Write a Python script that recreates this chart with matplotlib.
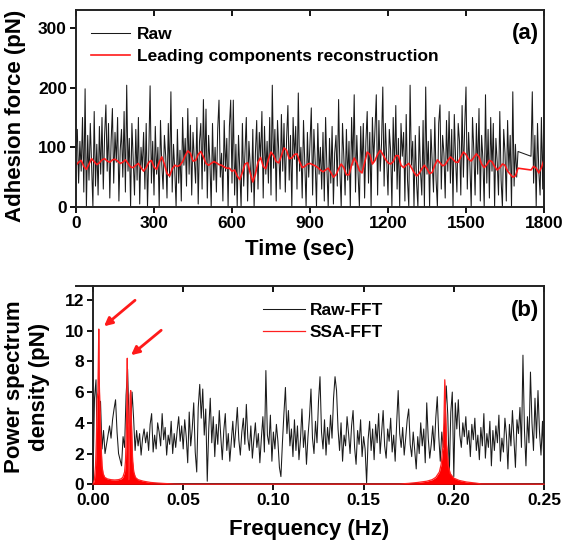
import numpy as np
import matplotlib
matplotlib.use("Agg")
import matplotlib.pyplot as plt
from matplotlib.lines import Line2D

plt.rcParams['font.family'] = ['Liberation Sans', 'DejaVu Sans']
plt.rcParams['font.weight'] = 'bold'

# ---------------- Panel (a) data ----------------
raw_dt = 5  # s between raw samples
raw_part1 = [  # t = 0 .. 1700 s
    95, 130, 40, 110, 60, 150, 25, 198, 0, 120, 45, 140, 70, 0, 160, 35, 105, 20, 135, 55,
    150, 30, 120, 171, 60, 140, 15, 110, 165, 40, 125, 75, 150, 10, 95, 130, 50, 160, 25, 204,
    60, 115, 0, 140, 80, 20, 130, 45, 150, 5, 100, 65, 125, 30, 140, 0, 90, 203, 40, 110,
    20, 135, 55, 100, 0, 145, 70, 30, 120, 85, 15, 140, 50, 193, 25, 105, 60, 0, 130, 40,
    95, 10, 150, 70, 115, 35, 165, 55, 137, 20, 125, 80, 40, 150, 5, 110, 140, 30, 180, 60,
    164, 15, 120, 75, 0, 140, 45, 100, 25, 130, 179, 50, 90, 10, 145, 60, 115, 0, 135, 179,
    40, 179, 20, 105, 0, 120, 60, 0, 140, 35, 95, 150, 10, 110, 70, 25, 130, 0, 90, 145,
    30, 125, 80, 160, 15, 135, 55, 110, 40, 150, 20, 204, 65, 130, 10, 145, 90, 30, 155, 60,
    140, 25, 115, 170, 45, 120, 0, 150, 80, 135, 30, 191, 60, 100, 15, 145, 70, 0, 125, 50,
    110, 166, 20, 130, 75, 0, 140, 55, 100, 30, 125, 10, 150, 65, 0, 115, 40, 135, 5, 90,
    120, 35, 180, 60, 0, 140, 85, 20, 130, 45, 110, 0, 150, 70, 188, 25, 120, 55, 0, 135,
    60, 140, 15, 110, 160, 40, 125, 0, 150, 75, 130, 188, 20, 145, 60, 105, 201, 35, 140, 80,
    20, 130, 95, 0, 150, 60, 170, 30, 115, 0, 140, 85, 125, 10, 155, 45, 0, 204, 70, 110,
    0, 120, 40, 0, 135, 60, 20, 145, 0, 201, 55, 110, 0, 130, 75, 25, 150, 45, 0, 140,
    171, 30, 120, 90, 15, 145, 60, 160, 40, 130, 0, 155, 80, 25, 140, 110, 20, 170, 50, 135,
    201, 30, 125, 70, 0, 150, 95, 20, 140, 55, 165, 10, 120, 80, 0, 188, 40, 130, 15, 150,
    60, 140, 0, 115, 75, 20, 160, 45, 0, 130, 90, 10, 145, 60, 120, 0, 193, 35, 105, 50,
    93,
]
raw_part2_start = 1750
raw_part2 = [85, 193, 40, 120, 0, 140, 60, 20, 150, 30, 179]  # t = 1750 .. 1800 s

recon_dt = 10
recon_part1 = [  # t = 0 .. 1700 s
    70, 75, 78, 68, 63, 72, 81, 76, 71, 74, 79, 81, 77, 75, 79, 80, 77, 73, 75, 79,
    73, 67, 66, 70, 73, 66, 60, 66, 75, 78, 67, 63, 75, 84, 72, 56, 52, 64, 70, 68,
    70, 76, 86, 94, 90, 77, 78, 88, 93, 84, 73, 70, 73, 76, 74, 71, 70, 67, 65, 65,
    60, 62, 52, 46, 58, 72, 74, 57, 42, 55, 75, 83, 68, 64, 80, 92, 86, 76, 74, 86,
    99, 95, 81, 82, 88, 89, 76, 66, 68, 72, 73, 71, 69, 66, 62, 59, 62, 65, 58, 50,
    54, 64, 72, 66, 54, 54, 70, 82, 74, 61, 57, 74, 92, 88, 72, 78, 88, 95, 88, 80,
    74, 72, 76, 86, 86, 70, 66, 70, 73, 66, 58, 52, 56, 64, 70, 64, 56, 58, 70, 79,
    74, 69, 71, 78, 84, 80, 75, 75, 84, 92, 88, 80, 77, 83, 89, 84, 72, 66, 71, 78,
    76, 68, 62, 66, 72, 70, 60, 55, 50, 52, 65,
]
recon_part2_start = 1750
recon_part2 = [62, 68, 65, 57, 66, 79]  # t = 1750 .. 1800 s

time_ticks = [0, 300, 600, 900, 1200, 1500, 1800]
force_ticks = [0, 100, 200, 300]

# ---------------- Panel (b) data ----------------
psd_df = 0.25 / 300
raw_fft = [
    0.3, 5.6, 6.8, 0.9, 4.2, 5.4, 2.3, 3.5, 2.0, 2.6, 3.2, 3.8, 3.0, 4.2, 4.9, 5.5, 3.4, 2.0, 1.6, 1.2,
    3.1, 2.4, 5.8, 7.5, 4.0, 3.4, 6.0, 4.3, 2.2, 3.5, 2.5, 3.3, 1.9, 3.0, 3.6, 2.7, 3.4, 2.2, 3.9, 4.6,
    2.1, 3.2, 2.3, 4.0, 3.4, 2.5, 4.6, 2.9, 3.7, 1.9, 3.2, 2.6, 4.1, 2.0, 3.3, 2.4, 3.5, 4.4, 2.8, 3.8,
    2.3, 4.2, 3.1, 1.4, 4.7, 2.5, 3.6, 5.3, 2.1, 0.8, 5.0, 6.5, 4.3, 6.2, 3.2, 4.9, 0.2, 3.6, 5.6, 2.7,
    4.4, 1.8, 3.9, 2.6, 4.8, 3.1, 1.6, 3.5, 4.6, 2.2, 3.3, 1.5, 2.8, 4.1, 2.4, 3.6, 5.0, 2.9, 1.9, 3.4,
    4.3, 2.6, 5.2, 3.0, 2.2, 3.8, 1.7, 2.9, 4.0, 2.4, 3.3, 1.4, 3.0, 4.4, 2.1, 7.4, 3.2, 2.6, 4.5, 1.5,
    3.4, 2.3, 3.9, 2.8, 1.1, 0.5, 2.7, 4.6, 6.3, 3.3, 4.8, 2.5, 3.6, 1.8, 4.2, 2.2, 3.8, 1.6, 2.9, 4.9,
    2.4, 3.5, 1.3, 3.1, 4.4, 6.2, 3.0, 2.0, 4.1, 2.7, 5.4, 7.0, 3.4, 2.3, 4.2, 1.9, 3.7, 2.6, 4.5, 3.0,
    5.6, 7.0, 6.1, 3.6, 2.2, 4.0, 1.5, 3.2, 2.5, 4.4, 3.3, 2.0, 3.8, 4.8, 2.4, 1.3, 3.5, 2.6, 4.2, 1.8,
    3.1, 2.3, 0.1, 2.9, 4.1, 2.2, 3.6, 1.6, 3.9, 2.7, 4.6, 2.0, 3.4, 4.8, 2.5, 1.7, 3.6, 2.8, 4.3, 2.1,
    3.2, 1.5, 4.0, 6.1, 3.3, 2.4, 3.7, 1.9, 3.0, 4.2, 4.9, 2.6, 1.8, 3.4, 2.2, 1.0, 3.1, 2.0, 4.0, 2.5,
    3.6, 1.4, 5.3, 3.0, 1.7, 2.6, 3.8, 2.2, 4.3, 5.7, 3.1, 1.5, 3.4, 2.4, 4.0, 6.4, 4.5, 0.6, 4.7, 6.0,
    0.5, 5.3, 3.6, 5.5, 3.2, 2.4, 4.0, 3.1, 4.4, 2.6, 3.5, 1.8, 3.9, 2.9, 4.3, 2.2, 3.2, 1.6, 3.7, 2.5,
    4.6, 1.7, 3.3, 2.4, 4.1, 1.2, 3.5, 2.2, 3.8, 2.7, 4.5, 1.5, 3.0, 2.1, 4.3, 3.2, 1.0, 3.9, 2.5, 4.8,
    2.9, 1.1, 4.2, 3.3, 5.0, 2.4, 8.4, 3.5, 1.2, 4.4, 2.7, 7.3, 4.0, 2.2, 5.6, 3.0, 6.1, 3.4, 1.9, 4.1,
    1.1,
]

ssa_freq = [0.0000, 0.0008, 0.0014, 0.0019, 0.0023, 0.0027, 0.0030, 0.0032, 0.0034, 0.0037,
            0.0041, 0.0045, 0.0050, 0.0056, 0.0065, 0.0080, 0.0100, 0.0120, 0.0140, 0.0155,
            0.0165, 0.0175, 0.0180, 0.0184, 0.0187, 0.0190, 0.0192, 0.0195, 0.0198, 0.0200,
            0.0203, 0.0206, 0.0209, 0.0212, 0.0216, 0.0220, 0.0226, 0.0235, 0.0250, 0.0280,
            0.0320, 0.0360, 0.0400, 0.0450, 0.0500, 0.1000, 0.1700, 0.1750, 0.1800, 0.1850,
            0.1880, 0.1900, 0.1920, 0.1930, 0.1940, 0.1945, 0.1950, 0.1955, 0.1960, 0.1970,
            0.1980, 0.2000, 0.2030, 0.2070, 0.2120, 0.2150, 0.2500]
ssa_fft = [0.0, 0.3, 1.2, 3.0, 5.5, 6.0, 8.3, 10.1, 7.0, 5.6,
           4.0, 2.5, 1.2, 0.7, 0.45, 0.35, 0.3, 0.28, 0.3, 0.35,
           0.45, 0.8, 1.5, 3.0, 5.0, 8.2, 5.5, 3.5, 0.3, 2.0,
           4.0, 5.8, 6.1, 4.5, 2.8, 1.5, 0.8, 0.45, 0.3, 0.2,
           0.12, 0.08, 0.05, 0.02, 0.01, 0.01, 0.02, 0.06, 0.12, 0.2,
           0.3, 0.45, 0.8, 1.3, 2.5, 4.0, 6.8, 4.5, 2.6, 1.2,
           0.7, 0.4, 0.25, 0.15, 0.08, 0.03, 0.01]

freq_ticks = [0.00, 0.05, 0.10, 0.15, 0.20, 0.25]
psd_ticks = [0, 2, 4, 6, 8, 10, 12]

# ---------------- Figure ----------------
W, H = 566, 546
fig = plt.figure(figsize=(W / 100, H / 100), dpi=100)

def frac(x0, y0, x1, y1):
    return [x0 / W, 1 - y1 / H, (x1 - x0) / W, (y1 - y0) / H]

axa = fig.add_axes(frac(76, 10, 544, 207))
axb = fig.add_axes(frac(93, 286, 544, 484.3))

TICK_FS = 12.5
LAB_FS = 16

def style(ax):
    for s in ax.spines.values():
        s.set_linewidth(1.4)
        s.set_color('#222222')
    ax.tick_params(axis='both', which='major', direction='out', length=4.5, width=1.3,
                   labelsize=TICK_FS, pad=2, right=False, top=False)
    for lbl in ax.get_xticklabels() + ax.get_yticklabels():
        lbl.set_fontweight('bold')
    sec = ax.secondary_xaxis('top')
    sec.set_xticks(ax.get_xticks())
    sec.tick_params(direction='in', length=4, width=1.3, labeltop=False)
    sec.spines['top'].set_visible(False)

# Panel (a)
t1 = np.arange(len(raw_part1)) * raw_dt
t2 = raw_part2_start + np.arange(len(raw_part2)) * raw_dt
raw_t = np.concatenate([t1, t2])
raw_v = np.array(raw_part1 + raw_part2, dtype=float)
r1 = np.arange(len(recon_part1)) * recon_dt
r2 = recon_part2_start + np.arange(len(recon_part2)) * recon_dt
rec_t = np.concatenate([r1, r2])
rec_v = np.array(recon_part1 + recon_part2, dtype=float)

axa.plot(raw_t, raw_v, color='#1a1a1a', lw=0.75, label='Raw')
axa.plot(rec_t, rec_v, color='#ff1a1a', lw=1.2, label='Leading components reconstruction')
axa.set_xlim(0, 1800)
axa.set_ylim(0, 330)
axa.set_xticks(time_ticks)
axa.set_yticks(force_ticks)
style(axa)
axa.set_xlabel('Time (sec)', fontsize=LAB_FS, fontweight='bold')
axa.set_ylabel('Adhesion force (pN)', fontsize=LAB_FS, fontweight='bold')
axa.xaxis.label.set_va('center')
axa.yaxis.label.set_va('center')
axa.xaxis.set_label_coords(0.479, -0.218)
axa.yaxis.set_label_coords(-0.130, 0.462)
leg = axa.legend(loc='upper left', bbox_to_anchor=(0.032, 0.915), frameon=False,
                 borderpad=0, borderaxespad=0, handlelength=2.25, handletextpad=0.4,
                 labelspacing=0.38, prop={'size': 12.5, 'weight': 'bold'})
axa.text(0.989, 0.883, '(a)', transform=axa.transAxes, ha='right', va='center',
         fontsize=LAB_FS, fontweight='bold')

# Panel (b)
psd_f = np.arange(len(raw_fft)) * psd_df
axb.plot(psd_f, raw_fft, color='#1a1a1a', lw=0.75, label='Raw-FFT', zorder=2)
axb.fill_between(ssa_freq, 0, ssa_fft, color='#ff0000', lw=0, zorder=3)
axb.plot(ssa_freq, ssa_fft, color='#ff2020', lw=0.9, label='SSA-FFT', zorder=3, clip_on=False)
axb.set_xlim(0, 0.25)
axb.set_ylim(0, 12.9)
axb.set_xticks(freq_ticks)
axb.set_yticks(psd_ticks)
axb.xaxis.set_major_formatter(matplotlib.ticker.FormatStrFormatter('%.2f'))
style(axb)
axb.set_xlabel('Frequency (Hz)', fontsize=LAB_FS, fontweight='bold')
axb.set_ylabel('Power spectrum\ndensity (pN)', fontsize=LAB_FS, fontweight='bold',
               linespacing=1.25)
axb.xaxis.label.set_va('center')
axb.yaxis.label.set_va('center')
axb.xaxis.set_label_coords(0.48, -0.23)
axb.yaxis.set_label_coords(-0.146, 0.49)
axb.legend(loc='upper left', bbox_to_anchor=(0.377, 0.915), frameon=False,
           borderpad=0, borderaxespad=0, handlelength=2.4, handletextpad=0.3,
           labelspacing=0.37, prop={'size': 12.5, 'weight': 'bold'})
axb.text(0.989, 0.878, '(b)', transform=axb.transAxes, ha='right', va='center',
         fontsize=LAB_FS, fontweight='bold')

arrow_kw = dict(arrowstyle='-|>', color='#ff1a1a', lw=2.0, mutation_scale=12,
                shrinkA=0, shrinkB=0)
axb.annotate('', xy=(0.0061, 10.28), xytext=(0.0233, 11.97), arrowprops=arrow_kw)
axb.annotate('', xy=(0.0211, 8.4), xytext=(0.0378, 10.02), arrowprops=arrow_kw)

# top frame line of panel (b) extends slightly to the left
fig.add_artist(Line2D([76 / W, 93 / W], [1 - 286 / H, 1 - 286 / H], color='#222222', lw=1.4))

fig.savefig('out.png', dpi=100)
